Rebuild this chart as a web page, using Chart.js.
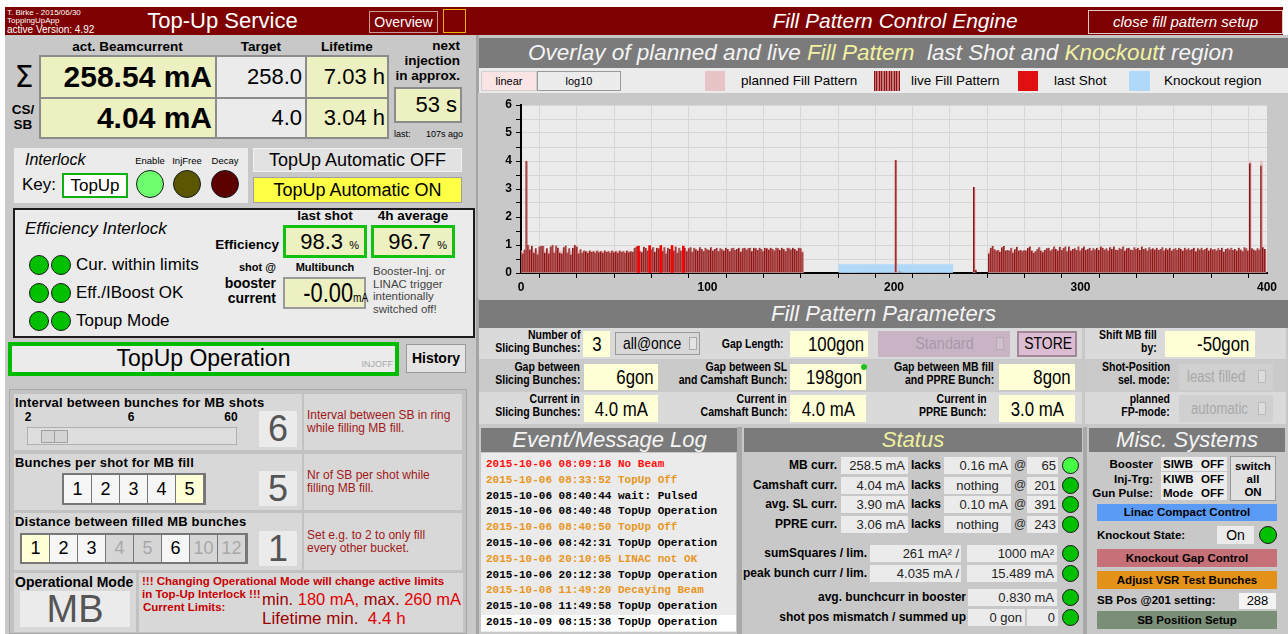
<!DOCTYPE html>
<html>
<head>
<meta charset="utf-8">
<title>Top-Up Service - Fill Pattern Control Engine</title>
<script src="https://cdn.jsdelivr.net/npm/chart.js@4.4.1/dist/chart.umd.min.js"></script>
<style>
  body { margin: 0; width: 1288px; height: 634px; overflow: hidden; background: #fff;
         font-family: "Liberation Sans", Arial, sans-serif; color: #000; }
  #ui { position: absolute; left: 0; top: 0; width: 1288px; height: 634px; }
  .a { position: absolute; box-sizing: border-box; white-space: nowrap; }
  .n { display: inline-block; }
  #chartBox { position: absolute; left: 478px; top: 93px; width: 810px; height: 205px; background: #c8c8c8; }
</style>
</head>
<body>
<div id="ui"></div>
<div id="chartBox"><canvas id="fillChart" width="810" height="205"></canvas></div>
<script>
// ---- fill pattern data (bucket index -> bunch current in mA) ----
// live pattern, multibunch section at the start of the ring (buckets 0..151)
const liveLeft = [
  0.75, 0.70, 0.84, 4.00, 1.00, 0.84, 0.97, 0.72, 0.88, 0.66,
  0.95, 0.97, 0.97, 0.72, 0.88, 0.70, 0.95, 1.00, 0.72, 0.98,
  0.90, 0.72, 0.70, 0.92, 0.98, 0.72, 0.88, 0.66, 0.90, 1.00,
  0.95, 0.70, 0.85, 0.72, 0.80, 0.78, 0.72, 0.80, 0.75, 0.78,
  0.72, 0.80, 0.74, 0.78, 0.72, 0.80, 0.75, 0.78, 0.72, 0.80,
  0.74, 0.78, 0.72, 0.80, 0.75, 0.78, 0.72, 0.80, 0.74, 0.78,
  0.75, 0.90, 0.95, 0.96, 0.78, 0.74, 0.94, 0.90, 0.80, 0.97,
  0.84, 0.92, 0.75, 0.90, 0.88, 0.97, 0.78, 0.92, 0.70, 0.90,
  0.86, 0.97, 0.80, 0.95, 0.72, 0.90, 0.80, 0.96, 0.90, 0.78,
  0.88, 0.92, 0.75, 0.90, 0.85, 0.80, 0.92, 0.86, 0.78, 0.90,
  0.85, 0.82, 0.92, 0.80, 0.86, 0.90, 0.78, 0.88, 0.85, 0.80,
  0.90, 0.86, 0.78, 0.88, 0.90, 0.82, 0.86, 0.90, 0.76, 0.88,
  0.90, 0.84, 0.88, 0.90, 0.78, 0.90, 0.88, 0.82, 0.90, 0.86,
  0.78, 0.90, 0.88, 0.84, 0.90, 0.86, 0.80, 0.90, 0.88, 0.82,
  0.90, 0.86, 0.78, 0.90, 0.88, 0.84, 0.90, 0.86, 0.80, 0.90,
  0.88, 0.74
];
// live pattern, multibunch section at the end of the ring (buckets 251..399)
const rightStart = 251;
const liveRight = [
  0.70, 0.90, 0.96, 0.85, 0.80, 0.82, 0.75, 0.92, 0.96, 0.80,
  0.82, 0.80, 0.90, 0.72, 0.85, 0.94, 0.80, 0.82, 0.78, 0.82,
  0.80, 0.90, 0.95, 0.80, 0.72, 0.78, 0.86, 0.92, 0.80, 0.74,
  0.82, 0.88, 0.90, 0.80, 0.85, 0.95, 0.86, 0.80, 0.94, 0.82,
  0.90, 0.95, 0.78, 0.95, 0.80, 0.86, 0.88, 0.82, 0.95, 0.80,
  0.88, 0.95, 0.82, 0.86, 0.90, 0.80, 0.88, 0.84, 0.90, 0.82,
  0.95, 0.90, 0.84, 0.88, 0.80, 0.92, 0.86, 0.95, 0.84, 0.82,
  0.90, 0.86, 0.95, 0.80, 0.88, 0.90, 0.84, 0.82, 0.92, 0.86,
  0.90, 0.82, 0.95, 0.86, 0.88, 0.80, 0.92, 0.85, 0.88, 0.84,
  0.90, 0.82, 0.86, 0.92, 0.80, 0.88, 0.84, 0.90, 0.80, 0.86,
  0.88, 0.82, 0.90, 0.86, 0.80, 0.90, 0.84, 0.88, 0.82, 0.86,
  0.90, 0.78, 0.88, 0.84, 0.90, 0.82, 0.86, 0.90, 0.80, 0.88,
  0.84, 0.86, 0.80, 0.88, 0.82, 0.90, 0.76, 0.86, 0.88, 0.84,
  0.90, 0.82, 0.86, 0.80, 0.90, 0.84, 0.78, 0.92, 0.88, 0.80,
  3.92, 0.88, 0.84, 0.80, 0.88, 0.84, 3.84, 0.92, 0.86
];
// isolated buckets: camshaft, PPRE and small satellites
const singleBuckets = [201, 203, 243, 244, 246];
const singleValues  = [4.04, 0.05, 3.07, 0.12, 0.03];

// planned pattern
const plannedLevel = 0.78;
const plannedSpecialBuckets = [3, 201, 243, 391, 397];
const plannedSpecialValues  = [4.0, 4.0, 3.0, 4.0, 4.0];

// last shot
const lastShotBuckets = [63, 69, 75, 81, 87];
const lastShotValues  = [0.96, 0.98, 0.98, 0.98, 0.96];

// knockout region
const knockoutFrom = 171, knockoutTo = 231, knockoutLevel = 0.3;

// axis ticks
const yMax = 6, yStep = 0.5;
const xMax = 400, xStep = 20, xLabelEvery = 100;

// ---- panel builder ----
const ui = document.getElementById('ui');
function put(x, y, w, h, html, css) {
  const d = document.createElement('div');
  d.className = 'a';
  d.style.cssText = `left:${x}px;top:${y}px;width:${w}px;height:${h}px;line-height:${h}px;` + (css || '');
  d.innerHTML = html || '';
  ui.appendChild(d);
  return d;
}
function led(cx, cy, r, color) {
  put(cx - r, cy - r, 2 * r, 2 * r, '', `border-radius:50%;background:${color};border:1px solid #1a1a1a`);
}
// condensed text (no narrow font installed, so squeeze horizontally)
function nar(text, origin, k) {
  return `<span class="n" style="transform:scaleX(${k || 0.8});transform-origin:${origin || 'center'}">${text}</span>`;
}
const B = 'font-weight:bold;', R = 'text-align:right;', C = 'text-align:center;', I = 'font-style:italic;';
const PALE = 'background:#edf0c0;', LIGHT = 'background:#ebebeb;', CREAM = 'background:#ffffd8;';
const fs = n => `font-size:${n}px;`;
const HEAD = 'background:#7b7b7b;color:#f4f4f4;' + I + fs(22) + C;

// frame
put(5, 7, 1278, 28, '', 'background:#7e0000');
put(5, 35, 471, 599, '', 'background:#c8c8c8');
put(476, 35, 3, 599, '', 'background:#a4a4a4');
put(479, 35, 809, 599, '', 'background:#c8c8c8');

// title bar
put(7, 8, 160, 9, 'T. Birke - 2015/06/30', 'color:#fff;' + fs(8));
put(7, 16, 160, 9, 'ToppingUpApp', 'color:#fff;' + fs(8));
put(7, 24, 160, 11, 'active Version: 4.92', 'color:#fff;' + fs(10));
put(115, 7, 215, 28, 'Top-Up Service', 'color:#fff;' + fs(22) + C);
put(369, 11, 69, 22, 'Overview', 'color:#fff;border:1px solid #c99;line-height:20px;' + fs(14) + C);
put(443, 9, 23, 24, '', 'border:1px solid #e8b400');
put(740, 7, 310, 28, 'Fill Pattern Control Engine', 'color:#fff;' + I + fs(21) + C);
put(1088, 10, 195, 24, 'close fill pattern setup', 'color:#fff;border:1px solid #e0c8c8;line-height:22px;' + I + fs(15) + C);

// beam current block
put(40, 38, 175, 17, 'act. Beamcurrent', B + C + fs(13.5));
put(217, 38, 88, 17, 'Target', B + C + fs(13.5));
put(307, 38, 80, 17, 'Lifetime', B + C + fs(13.5));
put(380, 38, 80, 48, 'next<br>injection<br>in approx.', B + R + fs(13.5) + 'line-height:15px');
put(8, 58, 32, 38, 'Σ', 'font-family:"DejaVu Sans";' + fs(30) + C);
put(6, 102, 34, 32, 'CS/<br>SB', B + C + fs(13.5) + 'line-height:15px');
put(39, 55, 350, 84, '', 'background:#8c8c8c');
put(41, 57, 174, 40, '258.54 mA', PALE + B + R + fs(30) + 'padding-right:3px');
put(41, 99, 174, 38, '4.04 mA', PALE + B + R + fs(30) + 'padding-right:3px');
put(217, 57, 88, 40, '258.0', LIGHT + R + fs(22) + 'padding-right:3px');
put(217, 99, 88, 38, '4.0', LIGHT + R + fs(22) + 'padding-right:3px');
put(307, 57, 80, 40, '7.03 h', PALE + R + fs(22) + 'padding-right:2px');
put(307, 99, 80, 38, '3.04 h', PALE + R + fs(22) + 'padding-right:2px');
put(394, 87, 68, 36, '53 s', PALE + R + fs(22) + 'border:2px solid #8c8c8c;padding-right:3px;line-height:32px');
put(394, 128, 30, 12, 'last:', fs(9));
put(420, 128, 43, 12, '107s ago', R + fs(9));

// interlock key
put(14, 148, 234, 55, '', LIGHT);
put(25, 151, 90, 18, 'Interlock', I + fs(16));
put(22, 175, 40, 20, 'Key:', fs(17));
put(62, 173, 66, 25, 'TopUp', 'background:#fff;border:2px solid #10b010;line-height:21px;' + fs(17) + C);
put(130, 155, 40, 11, 'Enable', fs(9.5) + C);
put(167, 155, 40, 11, 'InjFree', fs(9.5) + C);
put(205, 155, 40, 11, 'Decay', fs(9.5) + C);
led(150, 184, 14, '#6dff6d');
led(187, 184, 14, '#5c5600');
led(225, 184, 14, '#5c0000');
put(253, 148, 209, 24, 'TopUp Automatic OFF', 'background:#e2e2e2;border:1px solid #f2f2f2;line-height:22px;' + fs(18) + C);
put(253, 177, 209, 26, 'TopUp Automatic ON', 'background:#ffff44;border:1px solid #a0a0a0;line-height:24px;' + fs(18) + C);

// efficiency interlock
put(13, 208, 462, 130, '', 'background:#ebebeb;border:2px solid #1c1c1c');
put(25, 219, 200, 20, 'Efficiency Interlock', I + fs(17));
[265, 293, 321].forEach(y => { led(39, y, 10, '#00c000'); led(61, y, 10, '#00c000'); });
put(76, 255, 200, 20, 'Cur. within limits', fs(17));
put(76, 283, 200, 20, 'Eff./IBoost OK', fs(17));
put(76, 311, 200, 20, 'Topup Mode', fs(17));
put(283, 208, 84, 16, 'last shot', B + C + fs(13.5));
put(371, 208, 84, 16, '4h average', B + C + fs(13.5));
put(200, 236, 79, 18, 'Efficiency', B + R + fs(13.5));
put(283, 225, 84, 33, '98.3 <span style="font-size:11px">%</span>', PALE + R + 'border:3px solid #12c012;padding-right:5px;line-height:27px;' + fs(22));
put(371, 225, 84, 33, '96.7 <span style="font-size:11px">%</span>', PALE + R + 'border:3px solid #12c012;padding-right:5px;line-height:27px;' + fs(22));
put(200, 260, 76, 14, 'shot @', B + R + fs(11));
put(283, 260, 84, 14, 'Multibunch', B + C + fs(11));
put(190, 276, 86, 30, 'booster<br>current', B + R + fs(14) + 'line-height:15px');
put(283, 277, 83, 32, nar('-0.00<span style="font-size:13px">mA</span>', 'right', 0.78), PALE + R + 'border:2px solid #9a9a9a;padding-right:3px;line-height:28px;' + fs(28));
put(373, 265, 100, 52, 'Booster-Inj. or<br>LINAC trigger<br>intentionally<br>switched off!', fs(11.5) + 'line-height:12.7px;color:#444');

// operation state
put(8, 342, 391, 34, '', 'background:#ebebeb;border:4px solid #00bb00');
put(8, 342, 391, 34, 'TopUp Operation', fs(23) + C + 'line-height:33px');
put(330, 358, 63, 12, 'INJOFF', R + fs(9) + 'color:#a8a8a8');
put(406, 344, 60, 29, 'History', 'background:#e4e4e4;border:1px solid #9a9a9a;line-height:27px;' + B + fs(14) + C);

// multibunch settings
put(9, 389, 458, 245, '', 'background:#c2c2c2;border:1px solid #a8a8a8');
[[394, 56], [454, 56], [513, 57]].forEach(([y, h]) => {
  put(14, y, 288, h, '', 'background:#d8d8d8');
  put(304, y, 158, h, '', 'background:#d8d8d8');
});
put(14, 573, 122, 59, '', 'background:#d8d8d8');
put(139, 573, 324, 59, '', 'background:#d8d8d8');
const DESC = 'color:#a01818;line-height:13px;' + fs(12);
const ROWLAB = B + fs(13) + 'letter-spacing:0.2px;';

put(15, 395, 285, 15, 'Interval between bunches for MB shots', ROWLAB);
put(18, 410, 20, 14, '2', B + C + fs(12));
put(121, 410, 20, 14, '6', B + C + fs(12));
put(221, 410, 20, 14, '60', B + C + fs(12));
put(27, 427, 210, 18, '', 'background:#dedede;border:1px solid #b0b0b0');
put(41, 430, 27, 13, '', 'background:#d4d4d4;border:1px solid #a0a0a0');
put(54, 430, 1, 13, '', 'background:#a0a0a0');
put(259, 411, 38, 36, '6', LIGHT + C + fs(36) + 'color:#555');
put(307, 409, 155, 28, 'Interval between SB in ring<br>while filling MB fill.', DESC);

put(15, 455, 285, 15, 'Bunches per shot for MB fill', ROWLAB);
put(62, 473, 144, 32, '', 'background:#777');
['1', '2', '3', '4', '5'].forEach((t, i) => {
  put(64 + i * 28, 475, 27, 28, t, (i === 4 ? 'background:#ffffd8;' : 'background:#f6f6f6;') + C + fs(18));
});
put(259, 471, 38, 35, '5', LIGHT + C + fs(36) + 'color:#555');
put(307, 469, 155, 28, 'Nr of SB per shot while<br>filling MB fill.', DESC);

put(15, 514, 285, 15, 'Distance between filled MB bunches', ROWLAB);
put(20, 533, 228, 31, '', 'background:#777');
[['1', 'sel'], ['2', 'on'], ['3', 'on'], ['4', 'off'], ['5', 'off'], ['6', 'on'], ['10', 'off'], ['12', 'off']].forEach(([t, s], i) => {
  const bg = s === 'sel' ? 'background:#ffffd8;' : s === 'on' ? 'background:#f6f6f6;' : 'background:#d6d6d6;color:#a8a8a8;';
  put(22 + i * 28, 535, 27, 27, t, bg + C + fs(18));
});
put(259, 531, 38, 35, '1', LIGHT + C + fs(36) + 'color:#555');
put(307, 529, 155, 28, 'Set e.g. to 2 to only fill<br>every other bucket.', DESC);

put(15, 574, 120, 16, 'Operational Mode', B + fs(14));
put(20, 591, 110, 36, 'MB', LIGHT + C + fs(38) + 'color:#555');
const RED = 'color:#c80000;' + B + fs(11.5);
put(142, 575, 320, 13, '!!! Changing Operational Mode will change active limits', RED);
put(142, 588, 140, 13, 'in Top-Up Interlock !!!', RED);
put(143, 601, 140, 13, 'Current Limits:', RED);
put(262, 590, 200, 19, '<span style="color:#900">min.</span> 180 mA, <span style="color:#900">max.</span> 260 mA', 'color:#e00000;' + fs(16.5));
put(262, 609, 200, 20, '<span style="color:#900">Lifetime min.</span>&nbsp; 4.4 h', 'color:#e00000;' + fs(17));

// chart title & legend
put(479, 38, 809, 30, '', 'background:#7b7b7b');
put(528, 38, 760, 30, 'Overlay of planned and live <span style="color:#f2f2a0">Fill Pattern</span>&nbsp; last Shot and <span style="color:#f2f2a0">Knockout</span>t region', 'color:#f4f4f4;' + I + fs(22.5));
put(479, 68, 809, 25, '', 'background:#ebebeb');
put(481, 71, 56, 20, 'linear', 'background:#fbe4e6;border:1px solid #d0d0d0;line-height:18px;' + fs(11) + C);
put(537, 71, 84, 20, 'log10', 'background:#ececec;border:1px solid #9a9a9a;line-height:18px;' + fs(11) + C);
put(705, 71, 20, 20, '', 'background:#e8c4c6');
put(741, 70, 130, 22, 'planned Fill Pattern', fs(13.5));
put(874, 71, 26, 20, '', 'background:repeating-linear-gradient(90deg,#8c1010 0 1px,#c87878 1px 2.5px)');
put(911, 70, 100, 22, 'live Fill Pattern', fs(13.5));
put(1018, 71, 20, 20, '', 'background:#e01010');
put(1054, 70, 70, 22, 'last Shot', fs(13.5));
put(1129, 71, 21, 20, '', 'background:#b0d8f8');
put(1164, 70, 120, 22, 'Knockout region', fs(13.5));

// fill pattern parameters
put(479, 300, 809, 28, 'Fill Pattern Parameters', HEAD);
[[328, 31, '#dadada'], [360, 32, '#cacaca'], [392, 32, '#dadada']].forEach(([y, h, c]) => {
  put(479, y, 603, h, '', 'background:' + c);
  put(1085, y, 201, h, '', 'background:' + c);
});
const LAB = B + R + fs(12.5) + 'line-height:13px';
const FLD = CREAM + fs(21);
function lab2(xr, y, html) {
  put(xr - 150, y, 150, 26, html.split('<br>').map(t => nar(t, 'right', 0.84)).join('<br>'), LAB);
}
lab2(580, 329, 'Number of<br>Slicing Bunches:');
put(583, 331, 27, 26, nar('3'), FLD + C);
put(615, 332, 85, 23, nar('all@once', 'left', 0.82), 'background:#d8d8d8;border:1px solid #999;' + fs(17) + 'padding-left:7px;line-height:21px');
put(689, 337, 8, 13, '', 'border:1px solid #aaa;background:#e4e4e4');
put(640, 331, 147, 26, nar('Gap Length:', 'right', 0.84), B + R + fs(12.5) + 'padding-right:3px');
put(790, 331, 78, 26, nar('100gon', 'right'), FLD + R + 'padding-right:4px');
put(878, 331, 132, 26, nar('Standard', 'center', 0.85), 'background:#c8b4c4;color:#a898a8;' + fs(17) + C);
put(996, 337, 8, 13, '', 'border:1px solid #b8a8b8;background:#d0c0cc');
put(1017, 331, 60, 26, nar('STORE', 'center', 0.82), 'background:#dcbcd2;border:2px solid #a08898;line-height:22px;' + fs(17) + C);
lab2(1157, 329, 'Shift MB fill<br>by:');
put(1165, 331, 90, 26, nar('-50gon', 'right'), FLD + R + 'padding-right:6px');

lab2(580, 361, 'Gap between<br>Slicing Bunches:');
put(584, 364, 74, 26, nar('6gon', 'right'), FLD + R + 'padding-right:4px');
lab2(787, 361, 'Gap between SL<br>and Camshaft Bunch:');
put(790, 364, 76, 26, nar('198gon', 'right'), FLD + R + 'padding-right:4px');
put(861, 364, 6, 6, '', 'border-radius:50%;background:#20c020');
lab2(994, 361, 'Gap between MB fill<br>and PPRE Bunch:');
put(999, 364, 76, 26, nar('8gon', 'right'), FLD + R + 'padding-right:4px');
lab2(1170, 361, 'Shot-Position<br>sel. mode:');
put(1179, 364, 94, 26, nar('least filled', 'left', 0.82), 'background:#d0d0d0;color:#a8a8a8;' + fs(16) + 'padding-left:8px');
put(1258, 370, 8, 13, '', 'border:1px solid #bbb;background:#dcdcdc');

lab2(580, 393, 'Current in<br>Slicing Bunches:');
put(584, 395, 74, 27, nar('4.0 mA'), FLD + C);
lab2(787, 393, 'Current in<br>Camshaft Bunch:');
put(790, 395, 76, 27, nar('4.0 mA'), FLD + C);
lab2(987, 393, 'Current in<br>PPRE Bunch:');
put(999, 395, 76, 27, nar('3.0 mA'), FLD + C);
lab2(1170, 393, 'planned<br>FP-mode:');
put(1179, 395, 94, 27, nar('automatic', 'left', 0.82), 'background:#d0d0d0;color:#a8a8a8;' + fs(16) + 'padding-left:12px');
put(1258, 402, 8, 13, '', 'border:1px solid #bbb;background:#dcdcdc');

// event log
const logLines = [
  ['2015-10-06 08:09:18 No Beam', '#ff1010'],
  ['2015-10-06 08:33:52 TopUp Off', '#e8961e'],
  ['2015-10-06 08:40:44 wait: Pulsed', '#000'],
  ['2015-10-06 08:40:48 TopUp Operation', '#000'],
  ['2015-10-06 08:40:50 TopUp Off', '#e8961e'],
  ['2015-10-06 08:42:31 TopUp Operation', '#000'],
  ['2015-10-06 20:10:05 LINAC not OK', '#e8961e'],
  ['2015-10-06 20:12:38 TopUp Operation', '#000'],
  ['2015-10-08 11:49:20 Decaying Beam', '#e8961e'],
  ['2015-10-08 11:49:58 TopUp Operation', '#000'],
  ['2015-10-09 08:15:38 TopUp Operation', '#000']
];
put(481, 428, 257, 24, 'Event/Message Log', HEAD);
put(481, 453, 255, 179, '', LIGHT);
put(481, 615, 255, 16, '', 'background:#fff');
put(737, 427, 5, 207, '', 'background:#a8a8a8');
logLines.forEach(([t, c], i) => {
  put(486, 456 + i * 15.8, 250, 16, t, `font-family:"Liberation Mono","DejaVu Sans Mono",monospace;font-weight:bold;font-size:11px;color:${c}`);
});

// status
put(744, 428, 338, 24, 'Status', HEAD + 'color:#eef0a0');
const statusRows = [
  ['MB curr.', '258.5 mA', '0.16 mA', '65', '#44ff44'],
  ['Camshaft curr.', '4.04 mA', 'nothing', '201', '#00c000'],
  ['avg. SL curr.', '3.90 mA', '0.10 mA', '391', '#00c000'],
  ['PPRE curr.', '3.06 mA', 'nothing', '243', '#00c000']
];
const SBOX = LIGHT + fs(13) + 'color:#222;';
const SLAB = B + R + fs(12);
statusRows.forEach(([name, val, lack, pos, col], i) => {
  const y = 457 + i * 19.5;
  put(740, y, 97, 17, name, SLAB);
  put(841, y, 67, 17, val, SBOX + R + 'padding-right:3px');
  put(911, y, 32, 17, 'lacks', B + fs(12));
  put(944, y, 67, 17, lack, SBOX + (lack === 'nothing' ? C : R + 'padding-right:3px'));
  put(1014, y, 12, 17, '@', fs(12) + 'color:#333');
  put(1027, y, 31, 17, pos, SBOX + R + 'padding-right:2px');
  led(1070, y + 8.5, 8.5, col);
});
put(740, 545, 127, 17, 'sumSquares / lim.', SLAB);
put(870, 545, 91, 17, '261 mA² /', SBOX + R + 'padding-right:2px');
put(967, 545, 90, 17, '1000 mA²', SBOX + R + 'padding-right:3px');
led(1070, 553, 8.5, '#00c000');
put(740, 565, 127, 17, 'peak bunch curr / lim.', SLAB);
put(870, 565, 91, 17, '4.035 mA /', SBOX + R + 'padding-right:2px');
put(967, 565, 90, 17, '15.489 mA', SBOX + R + 'padding-right:3px');
led(1070, 573, 8.5, '#00c000');
put(760, 589, 206, 17, 'avg. bunchcurr in booster', SLAB);
put(968, 589, 89, 17, '0.830 mA', SBOX + R + 'padding-right:3px');
led(1070, 597, 8.5, '#00c000');
put(760, 609, 206, 17, 'shot pos mismatch / summed up', SLAB);
put(968, 609, 57, 17, '0 gon', SBOX + R + 'padding-right:3px');
put(1027, 609, 31, 17, '0', SBOX + R + 'padding-right:3px');
led(1070, 617, 8.5, '#00c000');
put(1083, 427, 4, 207, '', 'background:#a8a8a8');

// misc systems
put(1089, 428, 196, 24, 'Misc. Systems', HEAD);
[['Booster', 'SIWB'], ['Inj-Trg:', 'KIWB'], ['Gun Pulse:', 'Mode']].forEach(([n, v], i) => {
  const y = 457 + i * 14.5;
  put(1090, y, 63, 14, n, B + R + fs(11.5));
  put(1161, y, 66, 14, v, LIGHT + B + fs(11.5) + 'padding-left:2px');
  put(1201, y, 24, 14, 'OFF', B + fs(11.5));
});
put(1230, 456, 46, 45, 'switch<br>all<br>ON', 'background:#e0e0e0;border:1px solid #999;padding-top:3px;line-height:13px;' + B + C + fs(11.5));
put(1097, 504, 180, 17, 'Linac Compact Control', 'background:#5b9bf8;' + B + C + fs(11.5));
put(1097, 527, 110, 17, 'Knockout State:', B + fs(11.5));
put(1217, 526, 37, 18, 'On', LIGHT + C + fs(14));
led(1268, 535, 9, '#00c000');
put(1097, 549, 180, 18, 'Knockout Gap Control', 'background:#c67078;' + B + C + fs(11.5));
put(1097, 571, 180, 18, 'Adjust VSR Test Bunches', 'background:#e39118;' + B + C + fs(11.5));
put(1097, 592, 140, 17, 'SB Pos @201 setting:', B + fs(11.5));
put(1239, 593, 37, 16, '288', 'background:#f4f4f4;' + C + fs(13));
put(1097, 611, 180, 18, 'SB Position Setup', 'background:#7a8e78;' + B + C + fs(11.5));

// ---- chart ----
const liveData = [];
liveLeft.forEach((v, i) => liveData.push({ x: i, y: v }));
liveRight.forEach((v, i) => liveData.push({ x: rightStart + i, y: v }));
singleBuckets.forEach((b, i) => liveData.push({ x: b, y: singleValues[i] }));

const plannedData = [];
const mbBuckets = liveLeft.map((v, i) => i).concat(liveRight.map((v, i) => rightStart + i));
mbBuckets.forEach(b => {
  const k = plannedSpecialBuckets.indexOf(b);
  plannedData.push({ x: b, y: k >= 0 ? plannedSpecialValues[k] : plannedLevel });
});
plannedData.push({ x: 201, y: plannedSpecialValues[1] }, { x: 243, y: plannedSpecialValues[2] });

const lastShotData = lastShotBuckets.map((b, i) => ({ x: b, y: lastShotValues[i] }));
const knockoutData = [];
for (let b = knockoutFrom; b <= knockoutTo; b++) knockoutData.push({ x: b, y: knockoutLevel });

const plotBg = {
  id: 'plotBg',
  beforeDraw(chart) {
    const { ctx, chartArea: a } = chart;
    ctx.save();
    ctx.fillStyle = '#ebebeb';
    ctx.fillRect(a.left, a.top, a.width, a.height);
    ctx.restore();
  }
};

Chart.defaults.font.family = '"Liberation Sans", Arial, sans-serif';
new Chart(document.getElementById('fillChart').getContext('2d'), {
  type: 'bar',
  data: {
    datasets: [
      { label: 'last Shot', data: lastShotData, backgroundColor: '#ff0000', order: 0 },
      { label: 'live Fill Pattern', data: liveData, backgroundColor: '#b45c5c', borderColor: '#8a0c0c',
        borderWidth: { left: 1, right: 0, top: 0, bottom: 0 }, order: 1 },
      { label: 'planned Fill Pattern', data: plannedData, backgroundColor: '#e8c4c6', order: 2 },
      { label: 'Knockout region', data: knockoutData, backgroundColor: '#b0d8f8', order: 3 }
    ]
  },
  options: {
    responsive: false,
    animation: false,
    layout: { padding: { top: 12, right: 21, left: 0, bottom: 0 } },
    datasets: { bar: { grouped: false, barPercentage: 1, categoryPercentage: 1 } },
    plugins: { legend: { display: false }, tooltip: { enabled: false } },
    scales: {
      x: {
        type: 'linear', min: 0, max: xMax, offset: false,
        border: { color: '#000', width: 2 },
        grid: { color: '#d6d6d6', tickColor: '#000', tickLength: 5 },
        ticks: { stepSize: xStep, autoSkip: false, maxRotation: 0, color: '#000', padding: 2,
                 font: { weight: 'bold', size: 12 },
                 callback: v => (v % xLabelEvery === 0 ? v : '') },
        afterFit: s => { s.height = 25; }
      },
      y: {
        min: 0, max: yMax,
        border: { color: '#000', width: 2 },
        grid: { color: '#d6d6d6', tickColor: '#000', tickLength: 5 },
        ticks: { stepSize: yStep, autoSkip: false, color: '#000', padding: 4,
                 font: { weight: 'bold', size: 12 },
                 callback: v => (Number.isInteger(v) ? v : '') },
        afterFit: s => { s.width = 43; }
      }
    }
  },
  plugins: [plotBg]
});
</script>
</body>
</html>
